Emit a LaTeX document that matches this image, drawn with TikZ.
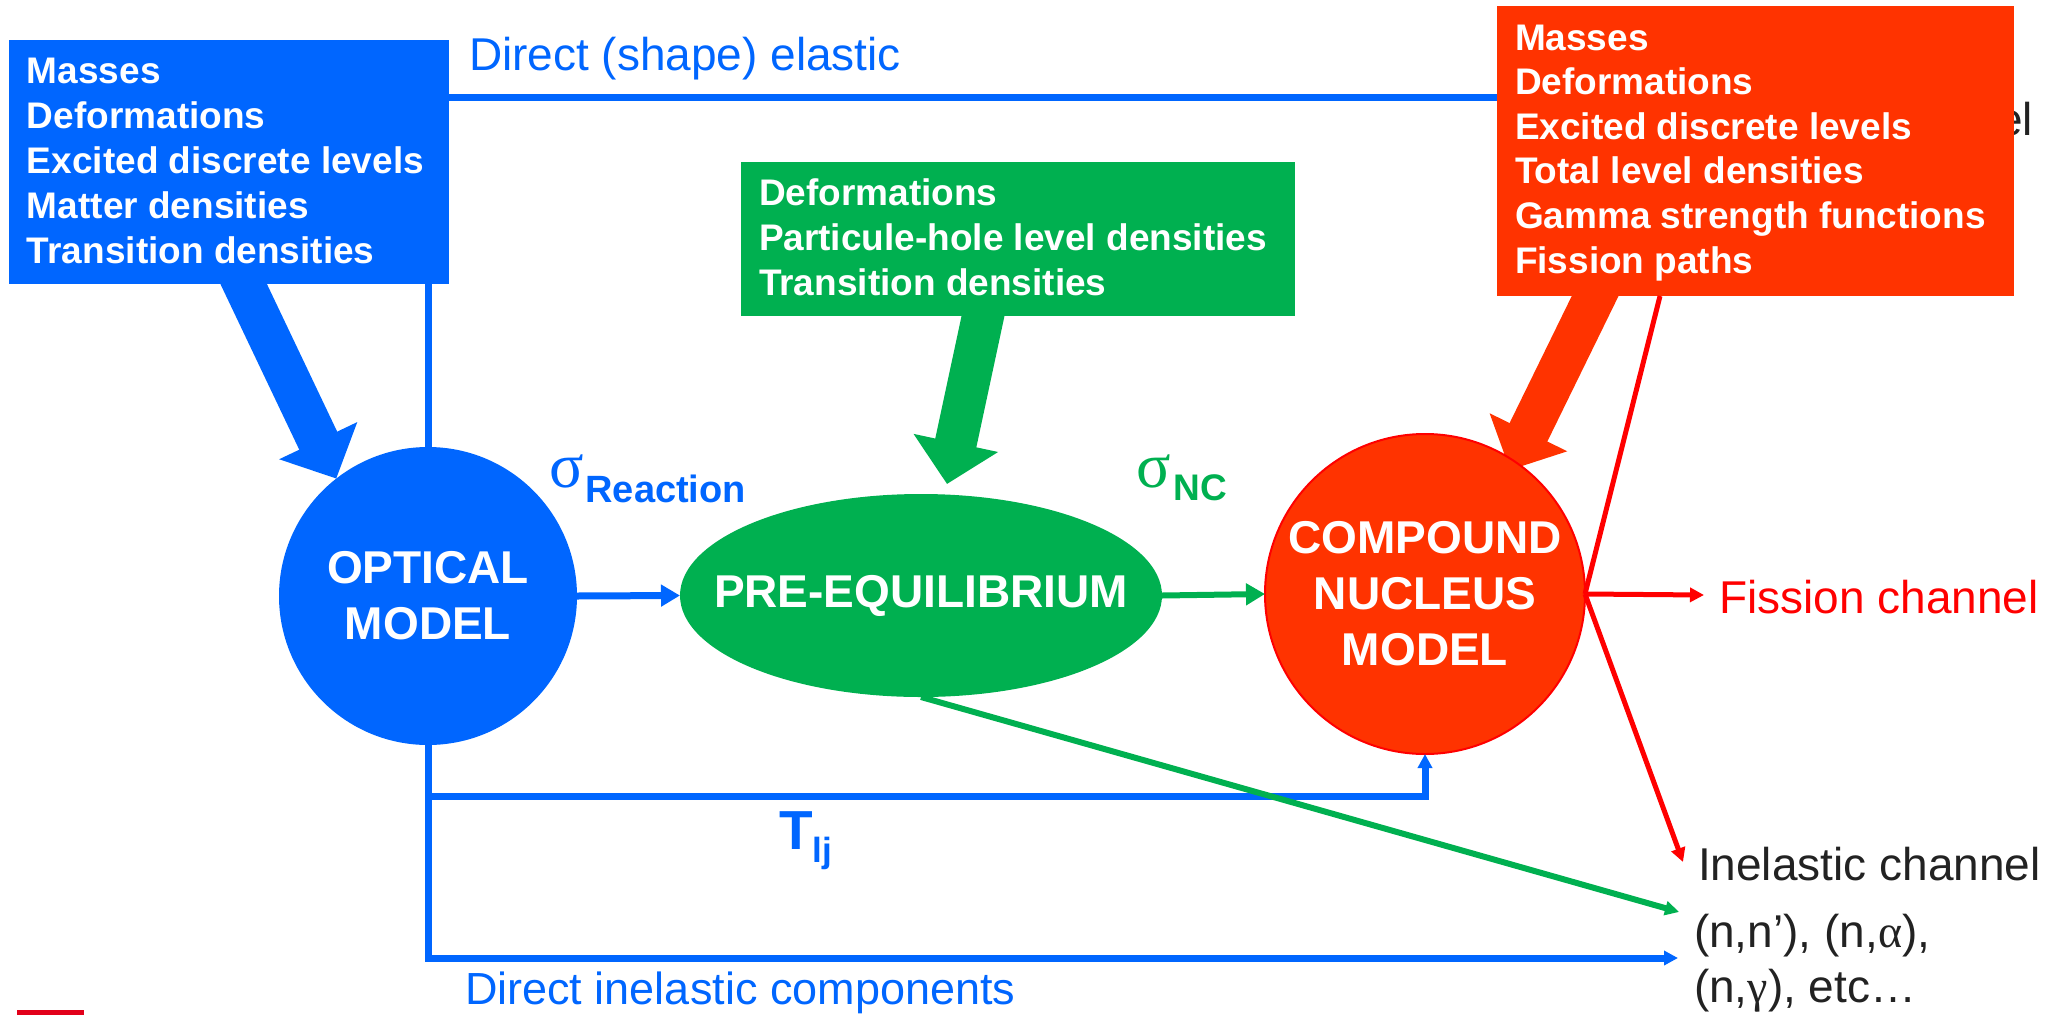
\documentclass[tikz,border=0pt]{standalone}
\usepackage{fontspec}
\setmainfont{Liberation Sans}
\newfontfamily\grk{Liberation Serif}
\usetikzlibrary{arrows.meta,shapes.geometric,calc,backgrounds}
\definecolor{cblue}{HTML}{0066FF}
\definecolor{cgreen}{HTML}{00B050}
\definecolor{corange}{HTML}{FF3300}
\definecolor{cred}{HTML}{FF0000}
\definecolor{ctext}{HTML}{222222}
\definecolor{cbar}{HTML}{E2001A}
\begin{document}
\begin{tikzpicture}[x=1pt,y=-1pt,
 box/.style={rectangle,inner sep=0pt,outer sep=0pt,anchor=north west},
 boxtext/.style={anchor=base west,inner sep=0pt,outer sep=0pt,text=white,font=\fontsize{37}{45}\selectfont\bfseries},
 ball/.style={circle,inner sep=0pt,outer sep=0pt,text=white,align=center,font=\fontsize{46}{56}\selectfont\bfseries},
 lbl/.style={anchor=base west,inner sep=0pt,outer sep=0pt},
 bl/.style={draw=cblue,line width=7pt},
 gl/.style={draw=cgreen,line width=6pt},
 rl/.style={draw=cred,line width=5pt},
 bigtip/.style={-{Triangle[length=19pt,width=21pt]}},
 smalltip/.style={-{Triangle[length=14pt,width=14pt]}},
 fatarrow/.style={line width=42pt,-{Triangle[length=42pt,width=84pt]}}
]
\useasboundingbox (0,0) rectangle (2067,1015);

% input boxes
\node[box,fill=cblue,minimum width=440pt,minimum height=244pt] (bluebox) at (9,40) {};
\node[boxtext] (bluetext) at (27,83) {\parbox[t]{420pt}{Masses\\Deformations\\Excited discrete levels\\Matter densities\\Transition densities}};
\node[box,fill=cgreen,minimum width=554pt,minimum height=154pt] (greenbox) at (741,162) {};
\node[boxtext] (greentext) at (759,205) {\parbox[t]{530pt}{Deformations\\Particule-hole level densities\\Transition densities}};
\node[lbl,anchor=base east,text=ctext,font=\fontsize{46}{46}\selectfont] (elastic) at (2033,135) {el};
\node[box,fill=corange,minimum width=517pt,minimum height=290pt] (redbox) at (1497,6) {};
\node[boxtext,font=\fontsize{37}{44.6}\selectfont\bfseries] (redtext) at (1515,50) {\parbox[t]{495pt}{Masses\\Deformations\\Excited discrete levels\\Total level densities\\Gamma strength functions\\Fission paths}};

% models
\node[ball,fill=cblue,minimum size=298pt] (optical) at (428,596) {OPTICAL\\MODEL};
\node[ellipse,fill=cgreen,minimum width=482pt,minimum height=203pt,inner sep=0pt,outer sep=0pt] (preeq) at (921,595.5) {};
\node[inner sep=0pt,text=white,font=\fontsize{46}{56}\selectfont\bfseries] (preeqtext) at (preeq.center) {PRE-EQUILIBRIUM};
\node[ball,fill=corange,draw=cred,line width=2pt,minimum size=320pt] (compound) at (1425,594) {COMPOUND\\NUCLEUS\\MODEL};

% labels
\node[lbl,text=cblue,font=\fontsize{46}{46}\selectfont] (dse) at (469,70) {Direct (shape) elastic};
\node[lbl,text=cblue,font=\fontsize{45}{45}\selectfont] (dic) at (465,1004) {Direct inelastic components};
\node[lbl,text=cblue] (sigr) at (549,487) {{\grk\fontsize{64}{64}\selectfont σ}\kern2pt\raisebox{-15pt}{\fontsize{38}{38}\selectfont\bfseries Reaction}};
\node[lbl,text=cgreen] (signc) at (1136,487) {{\grk\fontsize{64}{64}\selectfont σ}\kern3pt\raisebox{-13pt}{\fontsize{37}{37}\selectfont\bfseries NC}};
\node[lbl,text=cblue,font=\bfseries] (tlj) at (779,849) {{\fontsize{55}{55}\selectfont T}\raisebox{-13pt}{\fontsize{35}{35}\selectfont lj}};
\node[lbl,text=cred,font=\fontsize{46}{46}\selectfont] (fission) at (1719,613) {Fission channel};
\node[lbl,text=ctext,font=\fontsize{46}{46}\selectfont] (inel) at (1698,880) {Inelastic channel};
\node[lbl,text=ctext,font=\fontsize{46}{55}\selectfont] (reac) at (1694,947) {\parbox[t]{370pt}{(n,n’), (n,{\grk α}),\\(n,{\grk γ}), etc…}};
\node[box,fill=cbar,minimum width=67pt,minimum height=5pt] (bar) at (17,1010) {};

% named points
\coordinate (tl) at ($(bluebox.north east)+(0,57)$);
\coordinate (tj) at ($(optical.south)+(0,51)$);
\coordinate (tipB) at (1678,958);
\coordinate (tipG) at (1679,912);
\coordinate (tipF) at (1704,595);
\coordinate (tipI) at (1683,862);
\coordinate (rtop) at ($(redbox.south west)+(163,0)$);

% blue connectors
\draw[bl] (tl) -- (tl -| redbox.west);
\draw[bl] (optical.north) -- (optical.north |- bluebox.south);
\draw[bl,bigtip] (optical.east) -- (preeq.west);
\draw[bl,smalltip] (optical.south) |- (tipB);
\draw[bl,smalltip] (tj) -| (compound.south);

% green connectors
\draw[gl,bigtip] (preeq.east) -- (compound.west);
\draw[gl,smalltip] (preeq.south) -- (tipG);

% red connectors
\draw[rl] (compound.east) -- (rtop);
\draw[rl,smalltip] (compound.east) -- (tipF);
\draw[rl,smalltip] (compound.east) -- (tipI);

% fat input arrows
\begin{pgfonlayer}{background}
\draw[fatarrow,cblue] ($(bluebox.south west)+(228,-14)$) -- (optical.128);
\draw[fatarrow,cgreen] ($(greenbox.south west)+(245,-14)$) -- ($(preeq.north)+(26,-10)$);
\draw[fatarrow,corange] ($(redbox.south west)+(105,-14)$) -- ($(compound.center)+(85,-124)$);
\end{pgfonlayer}
\end{tikzpicture}
\end{document}
